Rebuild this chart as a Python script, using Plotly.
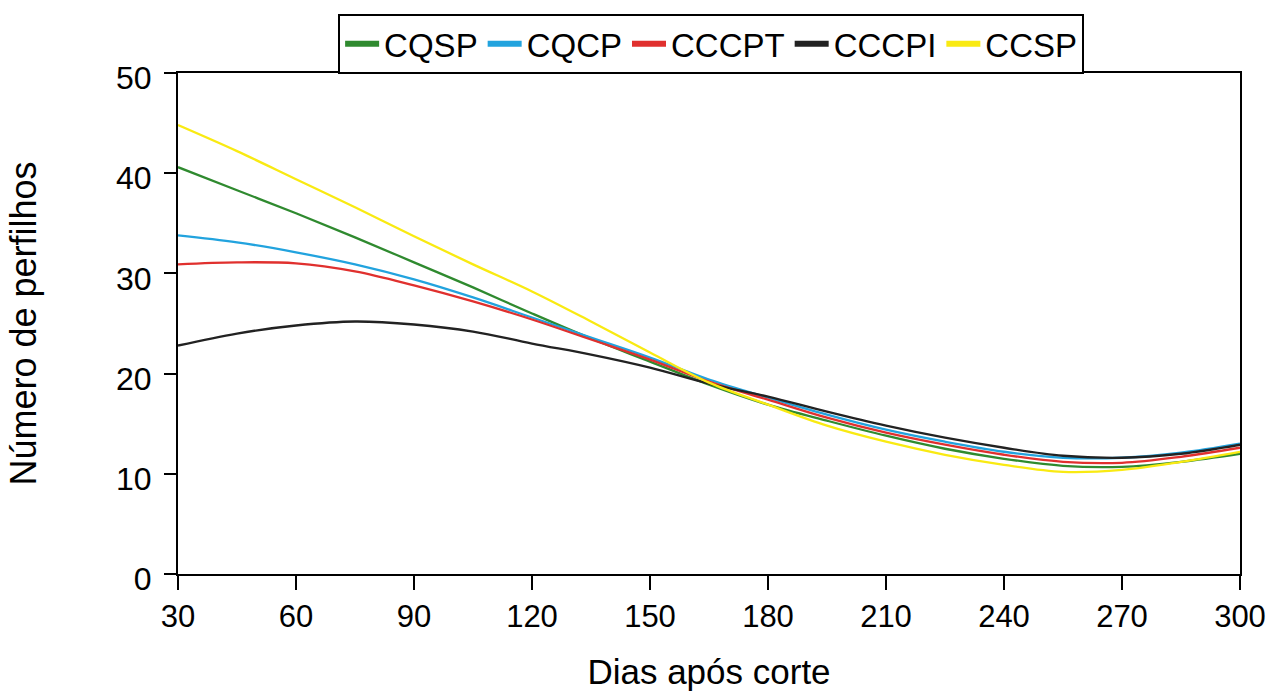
import plotly.graph_objects as go

days = [30, 45, 60, 75, 90, 105, 120, 135, 150, 165, 180, 195, 210, 225, 240, 255, 270, 285, 300]

cqsp = [40.6, 38.3, 36.0, 33.6, 31.1, 28.6, 26.0, 23.5, 21.2, 18.9, 16.9, 15.3, 13.8, 12.5, 11.5, 10.8, 10.7, 11.2, 12.0]
cqcp = [33.8, 33.1, 32.1, 30.9, 29.4, 27.6, 25.6, 23.6, 21.6, 19.4, 17.6, 15.9, 14.4, 13.2, 12.2, 11.6, 11.6, 12.1, 13.0]
cccpt = [30.9, 31.1, 31.0, 30.2, 28.8, 27.2, 25.4, 23.4, 21.4, 19.2, 17.4, 15.6, 14.1, 12.9, 11.9, 11.2, 11.1, 11.7, 12.6]
cccpi = [22.8, 24.0, 24.8, 25.2, 24.9, 24.2, 23.0, 21.9, 20.6, 19.0, 17.7, 16.2, 14.8, 13.6, 12.6, 11.8, 11.6, 12.0, 12.9]
ccsp = [44.8, 42.2, 39.4, 36.6, 33.7, 30.9, 28.2, 25.2, 22.1, 19.1, 16.9, 14.8, 13.2, 11.9, 10.9, 10.2, 10.4, 11.2, 12.2]

names = ["CQSP", "CQCP", "CCCPT", "CCCPI", "CCSP"]
series = [cqsp, cqcp, cccpt, cccpi, ccsp]
colors = ["#2f8a2f", "#22a3de", "#e0302e", "#222222", "#f9ea12"]

xticks = [30, 60, 90, 120, 150, 180, 210, 240, 270, 300]
yticks = [0, 10, 20, 30, 40, 50]

FONT = "Liberation Sans, Arial, sans-serif"

fig = go.Figure()
for name, vals, col in zip(names, series, colors):
    fig.add_trace(go.Scatter(x=days, y=vals, mode="lines", name=name,
                             line=dict(color=col, width=2.3, shape="spline"),
                             showlegend=False))
for name, col in zip(names, colors):
    fig.add_trace(go.Scatter(x=[None], y=[None], mode="lines", name=name,
                             line=dict(color=col, width=6), showlegend=True))

fig.update_layout(
    width=1268, height=691,
    margin=dict(l=178, r=28, t=73, b=117),
    paper_bgcolor="white", plot_bgcolor="white",
    font=dict(family=FONT, color="black", size=32),
    legend=dict(orientation="h", x=0.502, xanchor="center", y=1.118, yanchor="top",
                bordercolor="black", borderwidth=2, font=dict(size=33),
                itemwidth=34, tracegroupgap=0),
    xaxis=dict(range=[30, 300], tickvals=xticks, ticktext=[str(v) for v in xticks],
               showgrid=False, zeroline=False, showline=True, linecolor="black",
               linewidth=2, mirror=True, ticks="outside", ticklen=14, tickwidth=2,
               tickcolor="black", tickfont=dict(size=31), automargin=False,
               title=dict(text="Dias após corte", font=dict(size=35), standoff=27)),
    yaxis=dict(range=[0, 50], tickvals=yticks, ticktext=[str(v) for v in yticks],
               showgrid=False, zeroline=False, showline=True, linecolor="black",
               linewidth=2, mirror=True, ticks="outside", ticklen=12, tickwidth=2,
               tickcolor="black", tickfont=dict(size=32), automargin=False,
               ticklabelstandoff=6, ticklabelshift=5,
               title=dict(text="Número de perfilhos", font=dict(size=36), standoff=68)),
)

fig.write_html("out.html", config={"displayModeBar": False},
               post_script="document.body.style.margin='0';document.body.style.overflow='hidden';")
